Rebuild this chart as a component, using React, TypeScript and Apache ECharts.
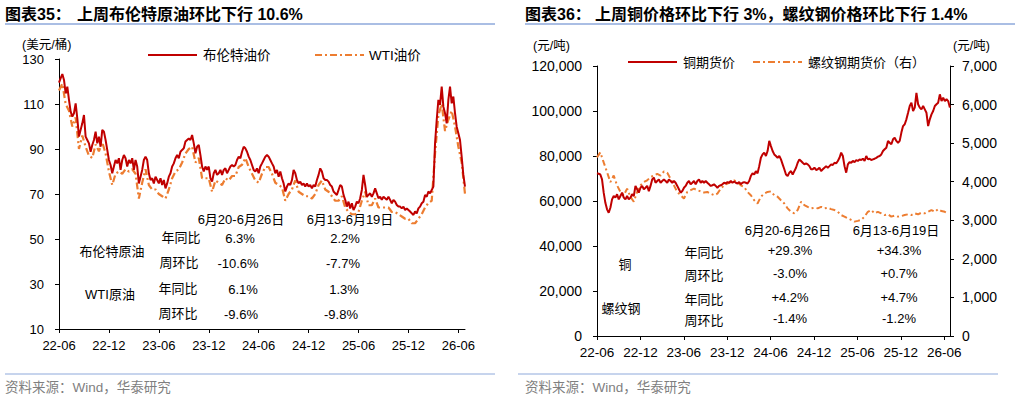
import React, { useEffect, useRef } from "react";
import * as echarts from "echarts";

// ---------- axis ticks ----------
const xTickMonths = [0, 6, 12, 18, 24, 30, 36, 42, 48];
const xTickLabels = ["22-06", "22-12", "23-06", "23-12", "24-06", "24-12", "25-06", "25-12", "26-06"];
const xMaxMonth = 48.8;

// ---------- oil (USD/bbl), months since 2022-06 ----------
const brentStep = 0.2;
const brent = [
  119.5, 121.5, 123.3, 120.7, 114.7, 117.7, 111.8, 106.6, 104.4, 105.9,
  110.3, 103.6, 95.5, 98.5, 101.4, 105.1, 95.5, 94, 92.5, 88.8,
  91.8, 94, 97.7, 92.5, 95.5, 91, 98.5, 97.7, 94, 89.6,
  85.1, 82.9, 79.2, 82.2, 85.1, 83.6, 85.9, 80.7, 85.1, 87.3,
  85.9, 82.2, 85.1, 83.6, 85.9, 80.7, 85.1, 82.2, 74.7, 77.7,
  80.7, 85.1, 86.6, 85.1, 79.2, 76.2, 77, 74.7, 77.7, 76.2,
  74.7, 77, 74, 76.2, 72.5, 74.7, 77.7, 79.2, 82.2, 83.6,
  85.9, 87.3, 85.9, 88.8, 89.6, 90.3, 93.3, 94, 94.7, 94,
  96.2, 92.5, 88.1, 91, 91.8, 87.3, 82.2, 80, 82.2, 80.7,
  82.2, 77, 75.5, 79.2, 80.7, 78.5, 79.2, 80.7, 78.5, 80.7,
  81.4, 79.2, 80.7, 82.2, 82.9, 82.2, 82.9, 85.1, 86.6, 85.9,
  88.8, 91, 90.3, 88.8, 86.6, 85.1, 82.9, 80.7, 80, 81.4,
  79.2, 82.2, 83.6, 85.1, 86.6, 87.3, 86.6, 85.1, 83.6, 82.2,
  79.2, 80.7, 77.7, 80, 77, 74.7, 71.1, 73.3, 74.7, 74,
  76.2, 80.7, 79.2, 76.2, 74.7, 75.5, 74, 74.7, 73.3, 74.7,
  73.3, 74, 72.5, 74, 73.3, 76.2, 78.5, 81.4, 80, 77,
  76.2, 76.2, 75.5, 74, 73.3, 71.1, 70.3, 69.6, 71.8, 74,
  73.3, 69.6, 67.4, 64.4, 66.6, 63.6, 65.9, 62.9, 64.4, 66.6,
  65.9, 68.1, 71.8, 78.5, 74, 68.8, 69.6, 70.3, 68.8, 70.3,
  72.5, 70.3, 68.1, 68.8, 67.4, 68.8, 68.1, 67.4, 68.8, 67.4,
  65.9, 67.4, 66.6, 65.1, 64.4, 64.4, 63.6, 64.4, 62.9, 63.6,
  62.9, 62.2, 61.4, 60.7, 62.2, 61.4, 63.6, 64.4, 65.9, 66.6,
  69.6, 68.8, 71.1, 70.3, 71.8, 73.3, 92.5, 102.9, 111.8, 109.6,
  117.7, 108.8, 105.9, 101.4, 111.8, 117.7, 110.3, 113.3, 105.9, 99.9,
  97, 94, 86.6, 78.5, 73.3,
];
const wtiStep = 0.4;
const wti = [
  116, 119, 110, 107, 100, 104, 90, 96, 91, 87,
  86, 92, 89, 93, 88, 80, 74, 79, 80, 79,
  81, 80, 81, 79, 68, 75, 81, 74, 72, 72,
  70, 69, 68, 72, 77, 80, 81, 84, 88, 90,
  91, 84, 86, 77, 77, 77, 71, 76, 75, 74,
  77, 76, 78, 78, 82, 83, 86, 82, 79, 76,
  75, 79, 82, 82, 79, 75, 74, 73, 67, 70,
  72, 76, 71, 70, 69, 69, 68, 70, 74, 76,
  72, 71, 69, 67, 67, 69, 64, 62, 61, 61,
  62, 67, 71, 65, 65, 68, 64, 64, 64, 64,
  62, 62, 61, 60, 59, 59, 57, 57, 59, 61,
  64, 66, 67, 88, 105, 110, 98, 103, 107, 100,
  91, 84, 70,
];

// ---------- metals (CNY/t) ----------
const copperStep = 0.2312;
const copper = [
  72300, 72100, 71800, 69600, 63700, 59200, 56300, 54800, 57000, 60700,
  62200, 61500, 63000, 60700, 62200, 63700, 61500, 60700, 62200, 60700,
  61500, 63000, 62200, 66700, 65200, 63700, 65900, 66700, 65200, 65900,
  66700, 64400, 66700, 69600, 70400, 68100, 68900, 69600, 68100, 68900,
  69600, 68900, 68100, 69600, 68900, 68100, 68900, 68100, 66700, 65200,
  63700, 64400, 65900, 66700, 68100, 68900, 67400, 68100, 68900, 67400,
  68900, 69600, 68100, 68900, 68100, 68900, 68100, 67400, 66700, 67000,
  67400, 66700, 65900, 66700, 67000, 67400, 68100, 67800, 68400, 68100,
  68900, 68100, 68700, 68100, 67800, 68400, 67500, 68100, 68400, 68100,
  67800, 68900, 71100, 72300, 71800, 73300, 72300, 75500, 79200, 80700,
  81500, 80000, 82200, 86700, 84400, 82200, 80700, 80000, 79200, 80000,
  78500, 76300, 74100, 71800, 71100, 72600, 73300, 71800, 73300, 74800,
  77000, 78500, 77800, 77000, 76300, 76700, 76300, 75500, 74100, 74100,
  74800, 73800, 74100, 74800, 73300, 74100, 74800, 75500, 74800, 75500,
  76300, 76000, 77000, 76700, 77800, 79200, 81500, 80000, 75500, 72600,
  76300, 77300, 77000, 77800, 77300, 78200, 77800, 78500, 78200, 78800,
  77800, 80000, 78500, 78800, 78200, 78500, 78800, 79200, 79700, 80000,
  80700, 82200, 83000, 83700, 86700, 85900, 85200, 87400, 88100, 86700,
  85900, 86700, 90400, 93300, 94100, 96300, 99200, 102200, 103700, 100000,
  101500, 108100, 103000, 101500, 100700, 102200, 100700, 99200, 93300, 96300,
  98500, 100000, 102200, 103000, 103700, 107400, 104400, 105900, 104400, 105200,
  104400, 101500,
];
const rebarStep = 0.4623;
const rebar = [
  4630, 4760, 4500, 4250, 3990, 4160, 3905, 3735, 3650, 3820,
  3610, 3480, 3735, 3905, 3990, 4035, 4120, 4160, 4205, 4160,
  4265, 4230, 4075, 3905, 3735, 3650, 3565, 3735, 3780, 3820,
  3780, 3750, 3720, 3735, 3690, 3650, 3690, 3820, 3905, 3950,
  3990, 4035, 3990, 3905, 3865, 3735, 3650, 3520, 3435, 3610,
  3690, 3735, 3750, 3650, 3610, 3520, 3435, 3310, 3220, 3180,
  3265, 3480, 3395, 3350, 3310, 3325, 3310, 3350, 3310, 3325,
  3290, 3265, 3220, 3135, 3095, 3050, 3010, 2965, 2985, 3010,
  3095, 3220, 3265, 3180, 3220, 3180, 3135, 3155, 3095, 3120,
  3095, 3110, 3135, 3155, 3135, 3180, 3155, 3195, 3180, 3220,
  3265, 3220, 3290, 3240, 3220, 3180,
];

// ---------- texts ----------
const periodHeaders = ["6月20-6月26日", "6月13-6月19日"];
const oilGroups = ["布伦特原油", "WTI原油"];
const metalGroups = ["铜", "螺纹钢"];
const metricNames = ["年同比", "周环比", "年同比", "周环比"];
const oilCurrent = ["6.3%", "-10.6%", "6.1%", "-9.6%"];
const oilPrevious = ["2.2%", "-7.7%", "1.3%", "-9.8%"];
const metalCurrent = ["+29.3%", "-3.0%", "+4.2%", "-1.4%"];
const metalPrevious = ["+34.3%", "+0.7%", "+4.7%", "-1.2%"];

const RED = "#C00000";
const ORANGE = "#ED7D31";
const FF = "'Liberation Sans', Arial, 'Noto Sans CJK SC', sans-serif";
const RULE = "#8EA9DB";

const toPairs = (arr: number[], step: number) => arr.map((v, i) => [Math.min(i * step, xMaxMonth), v]);
const fmtX = (v: number) => {
  const i = xTickMonths.findIndex((m) => Math.abs(m - v) < 1e-6);
  return i >= 0 ? xTickLabels[i] : "";
};
const fmtThousands = (v: number) => v.toLocaleString("en-US");

function txt(text: string, x: number, y: number, opts: any = {}) {
  return {
    type: "text",
    x,
    y,
    silent: true,
    style: {
      text,
      fontFamily: FF,
      fontSize: opts.size ?? 13,
      fontWeight: opts.weight ?? "normal",
      fill: opts.color ?? "#000",
      align: opts.align ?? "center",
      verticalAlign: "middle",
    },
  };
}
function hline(x1: number, x2: number, y: number, color: string, width: number, dash?: number[]) {
  return {
    type: "line",
    silent: true,
    shape: { x1, y1: y, x2, y2: y },
    style: { stroke: color, lineWidth: width, lineDash: dash },
  };
}

function xAxisCfg(gridIndex: number) {
  return {
    type: "value",
    gridIndex,
    min: 0,
    max: xMaxMonth,
    axisLine: { show: true, lineStyle: { color: "#000", width: 1 } },
    axisTick: { show: true, customValues: xTickMonths, length: 4, lineStyle: { color: "#000" } },
    axisLabel: {
      customValues: xTickMonths,
      formatter: fmtX,
      fontSize: gridIndex === 0 ? 13 : 13.5,
      fontFamily: FF,
      color: "#000",
      margin: 10,
    },
    splitLine: { show: false },
  };
}

export default function App() {
  const ref = useRef<HTMLDivElement>(null);
  useEffect(() => {
    document.body.style.margin = "0";
    if (!ref.current) return;
    const chart = echarts.init(ref.current, null, { renderer: "svg" });

    const oilRowY = [237, 262, 288, 313];
    const metalRowY = [250, 273, 297, 318];

    const graphics: any[] = [
      // titles
      txt("图表35：", 5, 14, { size: 16, weight: "bold", align: "left" }),
      txt("上周布伦特原油环比下行 10.6%", 77, 14, { size: 16, weight: "bold", align: "left" }),
      txt("图表36：", 525, 14, { size: 16, weight: "bold", align: "left" }),
      txt("上周铜价格环比下行 3%，螺纹钢价格环比下行 1.4%", 595, 14, { size: 16, weight: "bold", align: "left" }),
      hline(5, 495, 24, RULE, 1.5),
      hline(525, 1015, 24, RULE, 1.5),
      // footers
      hline(5, 495, 374, RULE, 1),
      hline(518, 998, 374, RULE, 1),
      txt("资料来源：Wind，华泰研究", 5, 387, { size: 13.5, color: "#7f7f7f", align: "left" }),
      txt("资料来源：Wind，华泰研究", 525, 387, { size: 13.5, color: "#7f7f7f", align: "left" }),
      // units
      txt("(美元/桶)", 22, 45, { size: 12.5, align: "left" }),
      txt("(元/吨)", 533, 46, { size: 12.5, align: "left" }),
      txt("(元/吨)", 953, 46, { size: 12.5, align: "left" }),
      // legends
      hline(148, 197, 55, RED, 2),
      txt("布伦特油价", 203, 55, { size: 13.5, align: "left" }),
      hline(315, 364, 55, ORANGE, 2, [7, 3, 2, 3]),
      txt("WTI油价", 369, 55, { size: 13.5, align: "left" }),
      hline(628, 677, 62, RED, 2),
      txt("铜期货价", 683, 62, { size: 13, align: "left" }),
      hline(753, 802, 62, ORANGE, 2, [7, 3, 2, 3]),
      txt("螺纹钢期货价（右）", 808, 62, { size: 13, align: "left" }),
      // oil table
      txt(periodHeaders[0], 241, 219),
      txt(periodHeaders[1], 350, 219),
      txt(oilGroups[0], 112, 251),
      txt(oilGroups[1], 110, 294),
      // metal table
      txt(periodHeaders[0], 788, 230),
      txt(periodHeaders[1], 896, 230),
      txt(metalGroups[0], 625, 264),
      txt(metalGroups[1], 621, 308),
    ];
    const oilMetricX = [181, 179, 178, 178];
    const oilCurX = [240, 238, 243, 241];
    const oilPrevX = [345, 343, 344, 341];
    for (let i = 0; i < 4; i++) {
      graphics.push(txt(metricNames[i], oilMetricX[i], oilRowY[i]));
      graphics.push(txt(oilCurrent[i], oilCurX[i], oilRowY[i] + 1));
      graphics.push(txt(oilPrevious[i], oilPrevX[i], oilRowY[i] + 1));
      graphics.push(txt(metricNames[i], 704, metalRowY[i] + 2));
      graphics.push(txt(metalCurrent[i], 790, metalRowY[i]));
      graphics.push(txt(metalPrevious[i], 899, metalRowY[i]));
    }

    chart.setOption({
      animation: false,
      backgroundColor: "#fff",
      grid: [
        { left: 59, top: 59, width: 406, height: 270 },
        { left: 597, top: 66, width: 353, height: 270 },
      ],
      xAxis: [xAxisCfg(0), xAxisCfg(1)],
      yAxis: [
        {
          type: "value",
          gridIndex: 0,
          min: 10,
          max: 130,
          interval: 20,
          axisLine: { show: true, lineStyle: { color: "#000" } },
          axisTick: { show: true, length: 4, lineStyle: { color: "#000" } },
          axisLabel: { fontSize: 13, fontFamily: FF, color: "#000", margin: 15 },
          splitLine: { show: false },
        },
        {
          type: "value",
          gridIndex: 1,
          min: 0,
          max: 120000,
          interval: 20000,
          axisLine: { show: true, lineStyle: { color: "#000" } },
          axisTick: { show: true, length: 4, lineStyle: { color: "#000" } },
          axisLabel: { fontSize: 14, fontFamily: FF, color: "#000", margin: 15, formatter: fmtThousands },
          splitLine: { show: false },
        },
        {
          type: "value",
          gridIndex: 1,
          position: "right",
          min: 0,
          max: 7000,
          interval: 1000,
          axisLine: { show: true, lineStyle: { color: "#000" } },
          axisTick: { show: true, length: 4, lineStyle: { color: "#000" } },
          axisLabel: { fontSize: 14, fontFamily: FF, color: "#000", margin: 12, formatter: fmtThousands },
          splitLine: { show: false },
        },
      ],
      series: [
        {
          name: "WTI油价",
          type: "line",
          xAxisIndex: 0,
          yAxisIndex: 0,
          data: toPairs(wti, wtiStep),
          showSymbol: false,
          symbol: "none",
          silent: true,
          lineStyle: { color: ORANGE, width: 2.2, type: [7, 3, 2, 3] },
          z: 2,
        },
        {
          name: "布伦特油价",
          type: "line",
          xAxisIndex: 0,
          yAxisIndex: 0,
          data: toPairs(brent, brentStep),
          showSymbol: false,
          symbol: "none",
          silent: true,
          lineStyle: { color: RED, width: 2 },
          z: 3,
        },
        {
          name: "铜期货价",
          type: "line",
          xAxisIndex: 1,
          yAxisIndex: 1,
          data: toPairs(copper, copperStep),
          showSymbol: false,
          symbol: "none",
          silent: true,
          lineStyle: { color: RED, width: 2 },
          z: 3,
        },
        {
          name: "螺纹钢期货价（右）",
          type: "line",
          xAxisIndex: 1,
          yAxisIndex: 2,
          data: toPairs(rebar, rebarStep),
          showSymbol: false,
          symbol: "none",
          silent: true,
          lineStyle: { color: ORANGE, width: 2, type: [6, 3, 2, 3] },
          z: 2,
        },
      ],
      graphic: graphics,
    });
    return () => chart.dispose();
  }, []);
  return (
    <div
      ref={ref}
      style={{ position: "absolute", left: 0, top: 0, width: 1030, height: 399 }}
    />
  );
}
